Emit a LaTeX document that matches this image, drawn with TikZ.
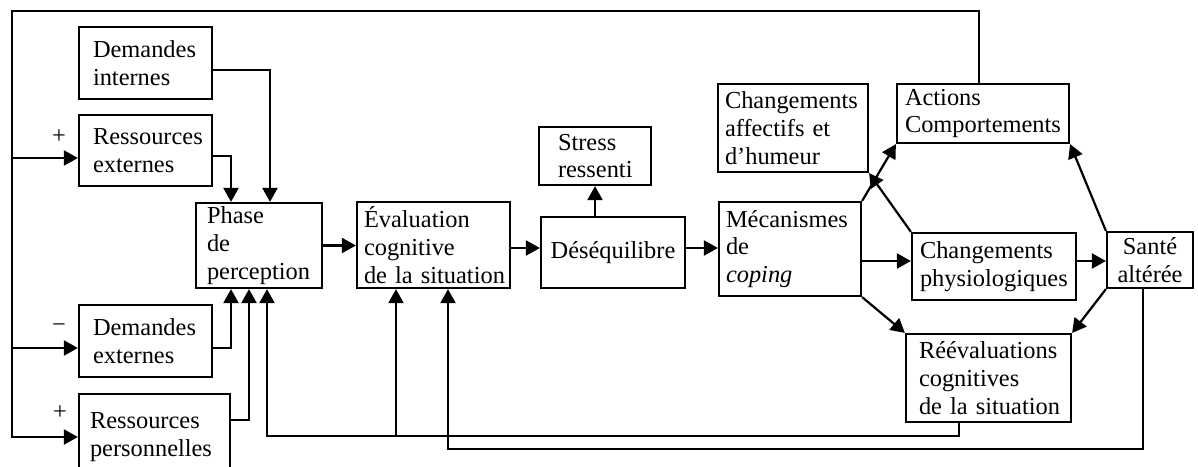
\documentclass[tikz,border=0pt]{standalone}
\usepackage{fontspec}
\setmainfont{Liberation Serif}
\usetikzlibrary{arrows.meta}
\hyphenpenalty=10000
\exhyphenpenalty=10000
\begin{document}
\begin{tikzpicture}[x=0.5pt,y=-0.5pt,
  txt/.style={font=\fontsize{12.2pt}{13.9pt}\selectfont},
  box/.style n args={3}{txt, draw, line width=1.1pt, minimum width=#1*0.5pt,
    minimum height=#2*0.5pt, inner xsep=0pt, inner ysep=0pt,
    text width=(#1-2*#3)*0.5pt, align=left},
  cbox/.style 2 args={txt, draw, line width=1.1pt, minimum width=#1*0.5pt,
    minimum height=#2*0.5pt, inner sep=0pt, align=center},
  conn/.style={line width=1.1pt},
  arr/.style={conn, -{Triangle[length=7pt,width=7.5pt]}},
  sign/.style={txt, inner sep=0pt}]
\clip (0,0) rectangle (1198,466);
\fill[white] (0,0) rectangle (1198,466);

% boxes
\node[box={133}{72}{14}] (dint) at (145.5,63) {Demandes\\internes};
\node[box={133}{71}{14}] (rext) at (145.5,150.5) {Ressources\\externes};
\node[box={126}{85}{11}] (phase) at (259,245.5) {Phase\\de\\perception};
\node[box={133}{72}{14}] (dext) at (145.5,341) {Demandes\\externes};
\node[box={151}{86}{11}] (rpers) at (154.5,437) {Ressources\\personnelles};
\node[box={153}{86}{7}] (eval) at (433.5,245) {Évaluation\\cognitive\\de~la~situation};
\node[cbox={144}{71}] (deseq) at (613,252.5) {Déséquilibre};
\node[box={112}{58}{19}] (stress) at (595,156) {Stress\\ressenti};
\node[box={142}{94}{7}] (meca) at (790,249) {Mécanismes\\de\\\textit{coping}};
\node[box={150}{88}{7}] (affect) at (793,128) {Changements\\affectifs~et\\d’humeur};
\node[box={172}{59}{8}] (act) at (983,113.5) {Actions\\Comportements};
\node[box={164}{67}{8}] (physio) at (994,266.5) {Changements\\physiologiques};
\node[cbox={86}{56}] (sante) at (1150,260) {Santé\\altérée};
\node[box={165}{88}{13}] (reev) at (988.5,378) {Réévaluations\\cognitives\\de~la~situation};

% signs
\node[sign] (s1) at (59,137) {+};
\node[sign] (s2) at (59,328) {−};
\node[sign] (s3) at (60,413) {+};

% helper coordinates
\coordinate (tr) at (979,11);
\coordinate (tl) at (12,11);
\coordinate (bl) at (12,437);
\coordinate (j1) at (12,158);
\coordinate (j2) at (12,348);
\coordinate (p1) at (270,70);
\coordinate (p2) at (231,156);
\coordinate (p3) at (231,348);
\coordinate (p4) at (249,420);
\coordinate (p5r) at (959,436);
\coordinate (p5) at (267,436);
\coordinate (p6) at (396,436);
\coordinate (p7) at (1143,449);
\coordinate (p8) at (448,449);
\coordinate (h1) at (0,248);
\coordinate (h2) at (0,261);

% big feedback loop
\draw[arr] (act.north -| tr) -- (tr) -- (tl) -- (bl) -- (rpers.west |- bl);
\draw[arr] (j1) -- (rext.west |- j1);
\draw[arr] (j2) -- (dext.west |- j2);

% inputs to perception
\draw[arr] (dint.east |- p1) -| (phase.north -| p1);
\draw[arr] (rext.east |- p2) -| (phase.north -| p2);
\draw[arr] (dext.east |- p3) -| (phase.south -| p3);
\draw[arr] (rpers.east |- p4) -| (phase.south -| p4);

% main chain
\draw[arr] (phase.east) -- (eval.west |- phase.east);
\draw[arr] (eval.east |- h1) -- (deseq.west |- h1);
\draw[arr] (deseq.east |- h1) -- (meca.west |- h1);
\draw[arr] (deseq.north -| stress.south) -- (stress.south);

% coping outputs
\draw[arr] (meca.north east) -- (act.south west);
\draw[arr] (physio.north west) -- (affect.south east);
\draw[arr] (meca.east |- h2) -- (physio.west |- h2);
\draw[arr] (meca.south east) -- (reev.north west);
\draw[arr] (physio.east |- h2) -- (sante.west |- h2);
\draw[arr] (sante.north west) -- (act.south east);
\draw[arr] (sante.south west) -- (reev.north east);

% lower feedback loops
\draw[arr] (reev.south -| p5r) -- (p5r) -- (p5) -- (phase.south -| p5);
\draw[arr] (p6) -- (eval.south -| p6);
\draw[arr] (sante.south -| p7) -- (p7) -- (p8) -- (eval.south -| p8);
\end{tikzpicture}
\end{document}
